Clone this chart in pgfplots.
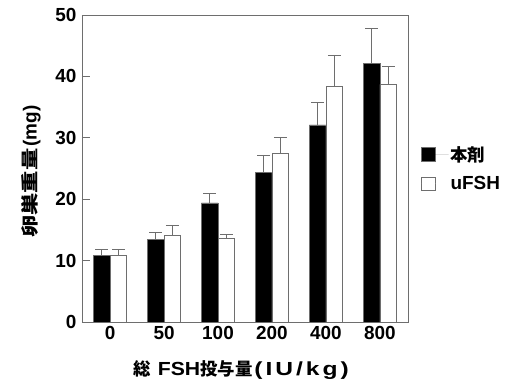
\documentclass[border=0pt]{standalone}
\usepackage{fontspec}
\setmainfont{Liberation Sans}
\newfontfamily\wide{Liberation Sans}[LetterSpace=12]
\newfontfamily\cjk{Noto Sans CJK JP}[Scale=0.92]
\usepackage{pgfplots}
\pgfplotsset{compat=1.18}
\usepackage{pgfplotstable}
\pgfplotstableread{
x y e
0 10.9 0.9
1 13.5 1.1
2 19.4 1.5
3 24.3 2.9
4 32.1 3.6
5 42.1 5.7
}\honzai
\pgfplotstableread{
x y e
0 10.9 0.9
1 14.1 1.6
2 13.6 0.6
3 27.5 2.6
4 38.4 5.1
5 38.7 2.9
}\ufsh
\definecolor{frame}{RGB}{110,110,110}
\newcommand{\F}{\fontsize{19}{21}\selectfont\bfseries}
\begin{document}
\begin{tikzpicture}
\begin{axis}[
  name=ax,
  scale only axis,
  width=326bp, height=307bp,
  xmin=-0.52, xmax=5.52, ymin=0, ymax=50,
  ybar=0pt, bar width=16.7bp,
  xtick={0,1,2,3,4,5},
  xticklabels={0,50,100,200,400,800},
  ytick={0,10,20,30,40,50},
  x tick style={draw=none},
  y tick style={frame, line width=0.8pt},
  tick align=inside,
  ytick pos=left,
  major tick length=8bp,
  axis line style={frame, line width=0.8pt},
  /pgf/number format/assume math mode=true,
  tick label style={font=\F},
  yticklabel style={xshift=-2bp},
  xticklabel style={yshift=-1bp},
  xlabel={{\cjk\bfseries 総}\hspace{7bp}\scalebox{1.12}[1]{FSH}{\cjk\bfseries 投与量}\hspace{2bp}\scalebox{1.3}[1]{\wide\bfseries(IU/kg)}},
  ylabel={\scalebox{1.28}[1]{\cjk\bfseries 卵巣重量}\hspace{2bp}(mg)},
  every axis x label/.style={at={(axis description cs:0.488,-0.156)}, anchor=center, font=\F},
  every axis y label/.style={at={(axis description cs:-0.156,0.49)}, rotate=90, anchor=center, font=\F},
  legend style={at={(axis description cs:1.04,0.58)}, anchor=north west, draw=none, fill=none,
    font=\F, row sep=10bp, inner sep=0pt, legend cell align=left},
  legend image code/.code={\draw[#1] (0bp,-6.75bp) rectangle (13.5bp,6.75bp); \path[draw=none] (0bp,0bp) -- (27bp,0bp);},
  error bars/y dir=plus,
  error bars/y explicit,
  error bars/error bar style={frame, line width=0.8pt},
  error bars/error mark options={rotate=90, mark size=6.4bp, frame, line width=0.8pt},
  clip=false,
]
\addplot[fill=black, draw=frame, line width=0.6pt] table[x=x, y=y, y error=e] {\honzai};
\addplot[fill=white, draw=frame, line width=0.6pt] table[x=x, y=y, y error=e] {\ufsh};
\legend{{\cjk\bfseries 本剤}, uFSH}
\end{axis}
\pgfresetboundingbox
\path ([shift={(-82bp,-63bp)}]ax.south west) rectangle ([shift={(97bp,15bp)}]ax.north east);
\end{tikzpicture}
\end{document}
